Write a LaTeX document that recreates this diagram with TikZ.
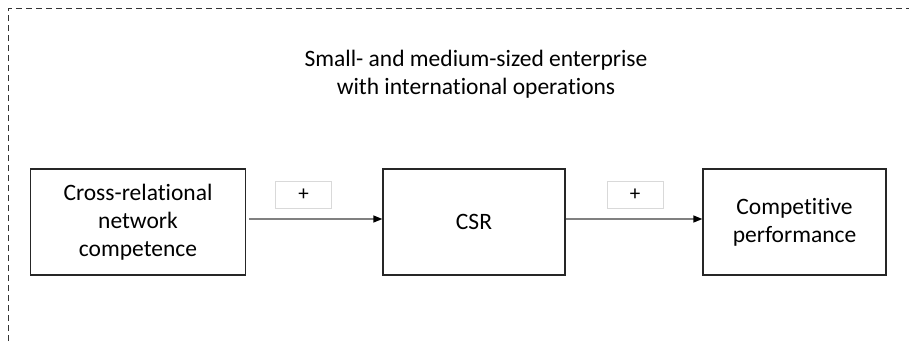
\documentclass[tikz,border=0pt]{standalone}
\usepackage{fontspec}
\setmainfont[Ligatures=NoCommon]{Carlito}
\usetikzlibrary{positioning,arrows.meta}
\tikzset{main box/.style={rectangle,draw=black!85,line width=1.3pt,align=center,inner sep=2pt,
minimum height=106pt,font=\fontsize{23.5}{28}\selectfont}}
\tikzset{sign box/.style={rectangle,draw=black!15,line width=0.8pt,minimum width=56pt,
minimum height=27pt,inner sep=0pt,font=\fontsize{21}{24}\selectfont}}
\tikzset{effect arrow/.style={draw=black!50,line width=1.3pt,-{Triangle[color=black,length=9pt,width=7pt]}}}

\begin{document}
\begin{tikzpicture}[x=1pt,y=-1pt]
\useasboundingbox (0,0) rectangle (909,341);

% firm boundary
\draw[black!80,line width=0.9pt,dash pattern=on 6pt off 4pt] (8.5,341) -- (8.5,8.5) -- (909,8.5);
\node[align=center,font=\fontsize{23.5}{28}\selectfont] (firm) at (476,74)
  {Small- and medium-sized enterprise\\with international operations};

% constructs
\node[main box,minimum width=215pt] (crnc) at (138,222) {Cross-relational\\network\\competence};
\node[main box,minimum width=182pt] (csr) at (474,222) {CSR};
\node[main box,minimum width=183pt] (perf) at (794.5,222) {Competitive\\performance};

% paths
\draw[effect arrow] ([xshift=3pt,yshift=3pt]crnc.east) -- ([yshift=3pt]csr.west);
\draw[effect arrow] ([yshift=3pt]csr.east) -- ([yshift=3pt]perf.west);

\node[sign box] (plusa) at (303.5,195) {+};
\node[sign box] (plusb) at (635,195) {+};
\end{tikzpicture}
\end{document}
